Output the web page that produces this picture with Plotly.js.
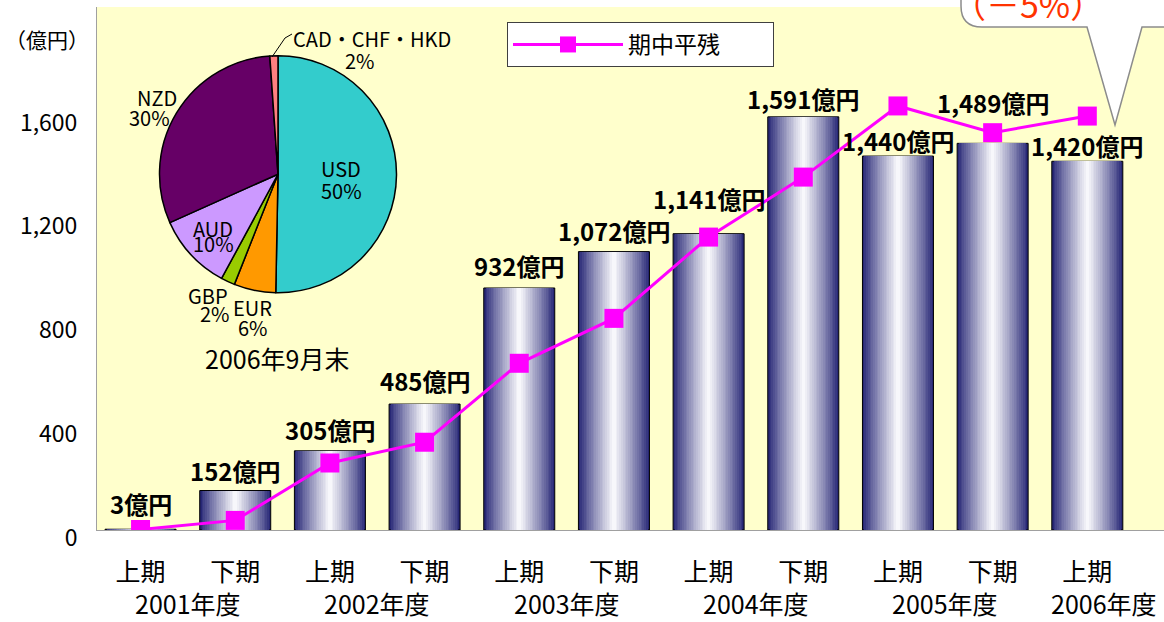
<!DOCTYPE html>
<html>
<head>
<meta charset="utf-8">
<script src="https://cdn.plot.ly/plotly-3.0.1.min.js"></script>
<style>
html,body{margin:0;padding:0;background:#fff;}
#chart{width:1164px;height:622px;}
</style>
</head>
<body>
<div id="chart"></div>
<script>
// ---------- data ----------
const halves   = ['上期','下期','上期','下期','上期','下期','上期','下期','上期','下期','上期'];
const years    = ['2001年度','2002年度','2003年度','2004年度','2005年度','2006年度'];
const balance  = [3,152,305,485,932,1072,1141,1591,1440,1489,1420];      // 残高 (億円)
const average  = [2,37,258,338,642,815,1128,1359,1633,1530,1594];        // 期中平残 (億円)
const lineName = '期中平残';
const unitLabel = '億円';
const yTitle   = '（億円）';
const yTicks   = [0,400,800,1200,1600];
const pieCurrencies = ['USD','EUR','GBP','AUD','NZD','CAD・CHF・HKD'];
const pieShares     = [50.3,5.7,1.9,10.4,30.6,1.1];
const piePctLabels  = ['50%','6%','2%','10%','30%','2%'];
const pieColors     = ['#33CCCC','#FF9900','#99CC00','#CC99FF','#660066','#FF8080'];
const pieCaption    = '2006年9月末';
const calloutText   = '（－5%）';

// ---------- geometry helpers (pixel -> paper) ----------
const W = 1164, H = 622;
const M = {l:97, r:0, t:7, b:92};
const PW = W - M.l - M.r, PH = H - M.t - M.b;
const px = x => (x - M.l) / PW;
const py = y => (H - M.b - y) / PH;

const CJK = 'Noto Sans CJK JP, Liberation Sans, sans-serif';
const xs = halves.map((_, i) => i);

// ---------- bars as layered gradient ----------
const traces = [];
const N = 20;
const navy = [30, 30, 112], light = [252, 252, 254];
for (let k = 0; k < N; k++) {
  const dmid = (k + 0.5) / N * 0.5;
  const f = Math.pow(Math.min(1, dmid / 0.5), 0.85);
  const c = navy.map((v, j) => Math.round(v + (light[j] - v) * f));
  traces.push({
    type: 'bar', x: xs, y: balance,
    width: 0.75 * (1 - k / N),
    marker: {color: `rgb(${c[0]},${c[1]},${c[2]})`,
             line: {color: k === 0 ? '#000' : 'rgba(0,0,0,0)', width: k === 0 ? 1 : 0}},
    showlegend: false, hoverinfo: 'skip'
  });
}
traces.push({
  type: 'scatter', mode: 'lines+markers', x: xs, y: average, name: lineName,
  line: {color: '#FF00FF', width: 3},
  marker: {symbol: 'square', size: 19, color: '#FF00FF'},
  showlegend: true
});
traces.push({
  type: 'pie', values: pieShares, labels: pieCurrencies, sort: false,
  direction: 'clockwise', rotation: 0,
  marker: {colors: pieColors, line: {color: '#000', width: 1.5}},
  textinfo: 'none', hoverinfo: 'label+percent', showlegend: false,
  domain: {x: [px(159.3), px(396.7)], y: [py(292.7), py(55.7)]}
});

// ---------- annotations ----------
const ann = [];
const labelShift = [26,20,21,24,22,21,35,18,16,41,16];
balance.forEach((v, i) => {
  ann.push({x: i, y: v, xref: 'x', yref: 'y', text: v.toLocaleString('en-US') + unitLabel,
    showarrow: false, xanchor: 'center', yanchor: 'middle', yshift: labelShift[i],
    font: {family: CJK, size: 24, color: '#000', weight: 'bold'}});
});
const yearX = [0.5, 2.5, 4.5, 6.5, 8.5, 10.18];
years.forEach((t, i) => {
  ann.push({x: yearX[i], y: py(603), xref: 'x', yref: 'paper', text: t, showarrow: false,
    xanchor: 'center', yanchor: 'middle', font: {family: CJK, size: 25, color: '#000'}});
});
const paperText = (x, y, text, size, color) => ({
  x: px(x), y: py(y), xref: 'paper', yref: 'paper', text: text, showarrow: false,
  xanchor: 'center', yanchor: 'middle', font: {family: CJK, size: size, color: color || '#000'}});
ann.push(paperText(47, 39, yTitle, 21));
// pie labels
const pieNamePos = [[341,168],[252,307],[208,295],[213,228],[157,97],[372,38]];
const piePctPos  = [[341,190],[253,327],[215,313],[213,243],[149,117],[360,61]];
pieCurrencies.forEach((c, i) => {
  ann.push(paperText(pieNamePos[i][0], pieNamePos[i][1], c, 20));
  ann.push(paperText(piePctPos[i][0], piePctPos[i][1], piePctLabels[i], 20));
});
ann.push(paperText(277, 358, pieCaption, 25));
ann.push(paperText(1028, 3, calloutText, 34, '#FF3300'));

// ---------- shapes ----------
const P = (x, y) => px(x) + ',' + py(y);
const bubble = 'M' + P(961,-30) + ' L' + P(961,6) + ' Q' + P(961,27) + ' ' + P(982,27) +
  ' L' + P(1087,27) + ' L' + P(1115,125) + ' L' + P(1142,27) + ' L' + P(1200,27) +
  ' L' + P(1200,-30) + ' Z';
const leader = 'M' + P(292,34) + ' L' + P(285,38) + ' L' + P(272,57);
const shapes = [
  {type: 'path', xref: 'paper', yref: 'paper', path: bubble, fillcolor: '#FFFFFF',
   line: {color: '#8C8C8C', width: 1.5}},
  {type: 'path', xref: 'paper', yref: 'paper', path: leader,
   line: {color: '#000', width: 1}}
];

const layout = {
  width: W, height: H, margin: M,
  paper_bgcolor: '#FFFFFF', plot_bgcolor: '#FFFFCC',
  barmode: 'overlay', bargap: 0,
  showlegend: true,
  legend: {x: px(507), y: py(22), xanchor: 'left', yanchor: 'top', orientation: 'h',
    bgcolor: '#FFFFFF', bordercolor: '#404040', borderwidth: 1,
    font: {family: CJK, size: 23, color: '#000'}, itemwidth: 110, entrywidth: 140},
  xaxis: {range: [-0.46, 10.81], tickvals: xs, ticktext: halves, showgrid: false,
    zeroline: false, showline: true, linecolor: '#A0A0A0', linewidth: 1, ticks: '',
    tickfont: {family: CJK, size: 25, color: '#000'}, ticklabelstandoff: 20, fixedrange: true},
  yaxis: {range: [0, 2014], tickvals: yTicks, tickformat: ',', showgrid: false,
    zeroline: false, showline: true, linecolor: '#A0A0A0', linewidth: 1, ticks: '',
    tickfont: {family: CJK, size: 23, color: '#000'}, ticklabelstandoff: 14,
    ticklabelshift: 8, fixedrange: true},
  annotations: ann,
  shapes: shapes
};

Plotly.newPlot('chart', traces, layout, {staticPlot: true, displayModeBar: false});
</script>
</body>
</html>
